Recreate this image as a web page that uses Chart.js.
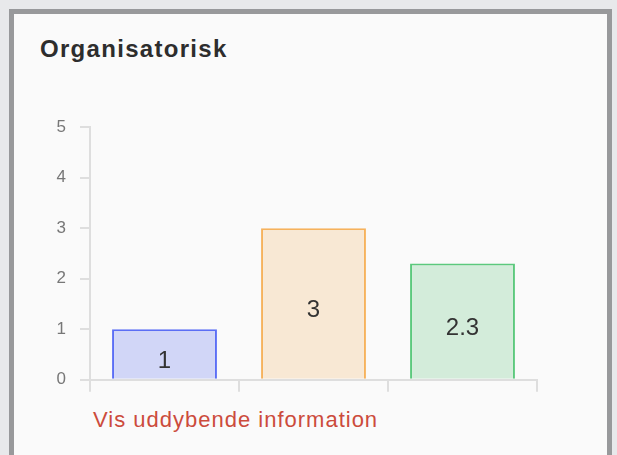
<!DOCTYPE html>
<html lang="da">
<head>
    <meta charset="UTF-8">
    <title>Organisatorisk</title>
    <style>
        body {
            background: #e8e9eb;
            margin: 0;
            padding: 0;
            font-family: 'Liberation Sans', Arial, sans-serif;
            overflow: hidden;
        }

        .card {
            position: absolute;
            left: 9px;
            top: 9px;
            width: 593px;
            height: 500px;
            border: 5px solid #98999b;
            background: #fafafa;
        }

        .title {
            position: absolute;
            left: 26px;
            top: 21px;
            margin: 0;
            font-size: 24px;
            font-weight: bold;
            color: #2d2d2d;
            letter-spacing: 1.3px;
        }

        .chart-box {
            position: absolute;
            left: 26px;
            top: 89px;
            width: 505px;
            height: 301px;
        }

        .more {
            position: absolute;
            left: 79px;
            top: 393px;
            font-size: 22px;
            color: #cc4b3c;
            text-decoration: none;
            letter-spacing: 1px;
        }
    </style>
    <script src="https://cdn.jsdelivr.net/npm/chart.js"></script>
</head>
<body>
    <div class="card">
        <h3 class="title">Organisatorisk</h3>
        <div class="chart-box">
            <canvas id="orgChart"></canvas>
        </div>
        <a class="more" href="#">Vis uddybende information</a>
    </div>

    <script>
        // chart data
        const categories = ['', '', ''];
        const values = [1, 3, 2.3];
        const yTicks = [0, 1, 2, 3, 4, 5];

        const fillColors = ['#d1d6f7', '#f8e8d4', '#d3ecda'];
        const lineColors = ['#5b6ef5', '#f6b25c', '#5cc97d'];

        // writes each value in the middle of its bar
        const valueLabels = {
            id: 'valueLabels',
            afterDatasetsDraw(chart) {
                const c = chart.ctx;
                const meta = chart.getDatasetMeta(0);
                c.save();
                c.font = '24px "Liberation Sans", Arial, sans-serif';
                c.fillStyle = '#333';
                c.textAlign = 'center';
                c.textBaseline = 'middle';
                meta.data.forEach((bar, i) => {
                    const mid = (bar.y + bar.base) / 2 + 7;
                    c.fillText(String(values[i]), bar.x, mid);
                });
                c.restore();
            }
        };

        const ctx = document.getElementById('orgChart').getContext('2d');
        new Chart(ctx, {
            type: 'bar',
            data: {
                labels: categories,
                datasets: [{
                    data: values,
                    backgroundColor: fillColors,
                    borderColor: lineColors,
                    borderWidth: 2,
                    categoryPercentage: 0.8,
                    barPercentage: 0.88
                }]
            },
            options: {
                responsive: true,
                maintainAspectRatio: false,
                animation: false,
                layout: { padding: { top: 15, right: 8 } },
                plugins: {
                    legend: { display: false },
                    tooltip: { enabled: false }
                },
                scales: {
                    y: {
                        min: yTicks[0],
                        max: yTicks[yTicks.length - 1],
                        afterBuildTicks: s => { s.ticks = yTicks.map(v => ({ value: v })); },
                        afterFit: s => { s.width = 50; },
                        ticks: {
                            color: '#777',
                            padding: 14,
                            font: { size: 17, family: 'Liberation Sans' }
                        },
                        grid: {
                            drawOnChartArea: false,
                            tickLength: 10,
                            color: '#dedede',
                            lineWidth: 2
                        },
                        border: { color: '#dedede', width: 2 }
                    },
                    x: {
                        afterFit: s => { s.height = 12; },
                        ticks: { display: false },
                        grid: {
                            drawOnChartArea: false,
                            tickLength: 12,
                            color: '#dedede',
                            lineWidth: 2
                        },
                        border: { color: '#dedede', width: 2 }
                    }
                }
            },
            plugins: [valueLabels]
        });
    </script>
</body>
</html>
